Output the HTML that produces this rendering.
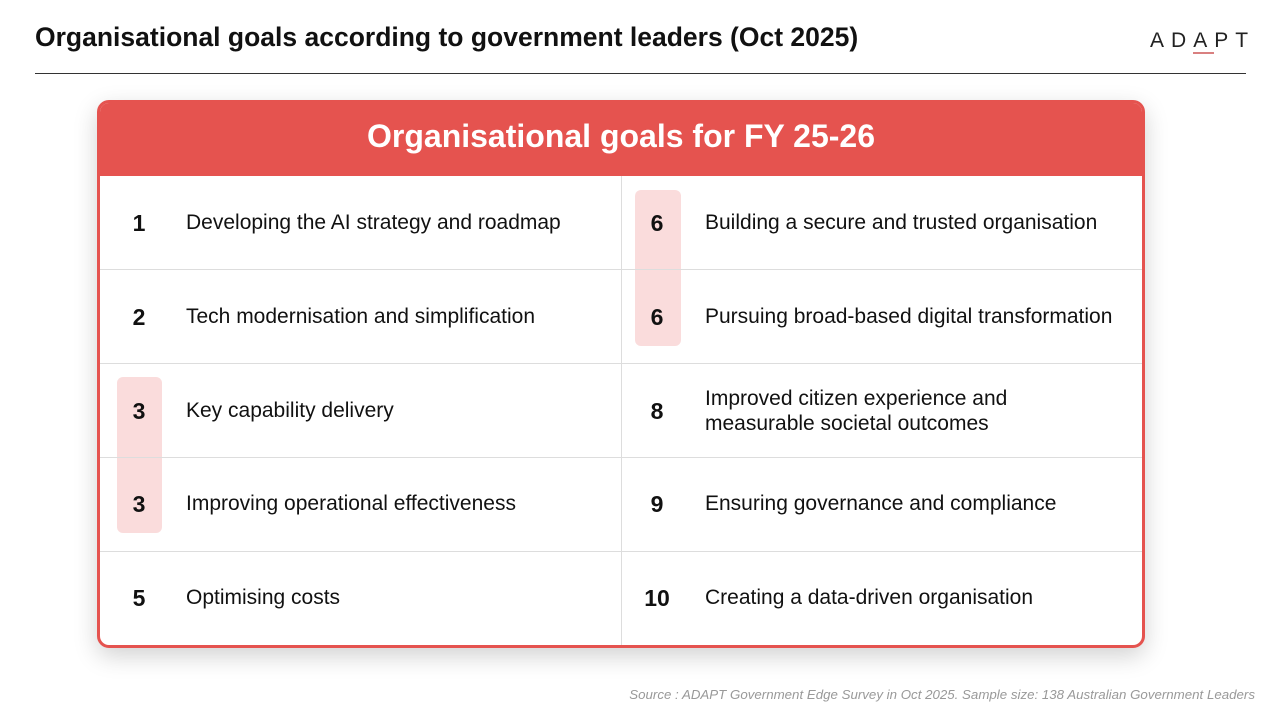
<!DOCTYPE html>
<html><head><meta charset="utf-8"><style>
body{margin:0;width:1280px;height:720px;background:#fff;font-family:"Liberation Sans",Arial,sans-serif;position:relative;overflow:hidden}
.t{position:absolute;left:35px;top:22px;font-size:26.5px;font-weight:bold;color:#111}
.logo{position:absolute;left:1150px;top:29px;font-size:21px;letter-spacing:7px;color:#222}
.logo u{text-decoration:none;border-bottom:2px solid #d98080}
.hr{position:absolute;left:35px;top:73px;width:1211px;height:1px;background:#333}
.card{position:absolute;left:97px;top:100px;width:1042px;height:542px;border:3px solid #e5534f;border-radius:12px;background:#fff;box-shadow:0 8px 24px rgba(0,0,0,.18);overflow:hidden}
.hd{position:absolute;left:0;top:0;width:100%;height:73px;background:#e5534f;color:#fff;font-size:32px;font-weight:bold;text-align:center;line-height:66px}
.hl{position:absolute;background:#fadcdc;border-radius:6px}
.hline{position:absolute;left:0;width:100%;height:1px;background:#ddd}
.vline{position:absolute;left:521px;top:73px;width:1px;height:470px;background:#ddd}
.n{position:absolute;width:60px;text-align:center;font-size:23px;font-weight:bold;color:#111}
.x{position:absolute;font-size:21px;color:#111;line-height:25px}
.src{position:absolute;right:25px;top:687px;font-size:13.3px;font-style:italic;color:#999}
</style></head><body>
<div class="t">Organisational goals according to government leaders (Oct 2025)</div>
<div class="logo">AD<u>A</u>PT</div>
<div class="hr"></div>
<div class="card">
<div class="hd">Organisational goals for FY 25-26</div>
<div class="hl" style="left:17px;top:274px;width:45px;height:156px"></div>
<div class="hl" style="left:535px;top:87px;width:46px;height:156px"></div>
<div class="hline" style="top:166px"></div>
<div class="hline" style="top:260px"></div>
<div class="hline" style="top:354px"></div>
<div class="hline" style="top:448px"></div>
<div class="vline"></div>

<div class="n" style="left:9px;top:107px">1</div><div class="x" style="left:86px;top:107px">Developing the AI strategy and roadmap</div>
<div class="n" style="left:9px;top:201px">2</div><div class="x" style="left:86px;top:201px">Tech modernisation and simplification</div>
<div class="n" style="left:9px;top:295px">3</div><div class="x" style="left:86px;top:295px">Key capability delivery</div>
<div class="n" style="left:9px;top:388px">3</div><div class="x" style="left:86px;top:388px">Improving operational effectiveness</div>
<div class="n" style="left:9px;top:482px">5</div><div class="x" style="left:86px;top:482px">Optimising costs</div>

<div class="n" style="left:527px;top:107px">6</div><div class="x" style="left:605px;top:107px">Building a secure and trusted organisation</div>
<div class="n" style="left:527px;top:201px">6</div><div class="x" style="left:605px;top:201px">Pursuing broad-based digital transformation</div>
<div class="n" style="left:527px;top:295px">8</div><div class="x" style="left:605px;top:283px">Improved citizen experience and<br>measurable societal outcomes</div>
<div class="n" style="left:527px;top:388px">9</div><div class="x" style="left:605px;top:388px">Ensuring governance and compliance</div>
<div class="n" style="left:527px;top:482px">10</div><div class="x" style="left:605px;top:482px">Creating a data-driven organisation</div>
</div>
<div class="src">Source : ADAPT Government Edge Survey in Oct 2025. Sample size: 138 Australian Government Leaders</div>
</body></html>
